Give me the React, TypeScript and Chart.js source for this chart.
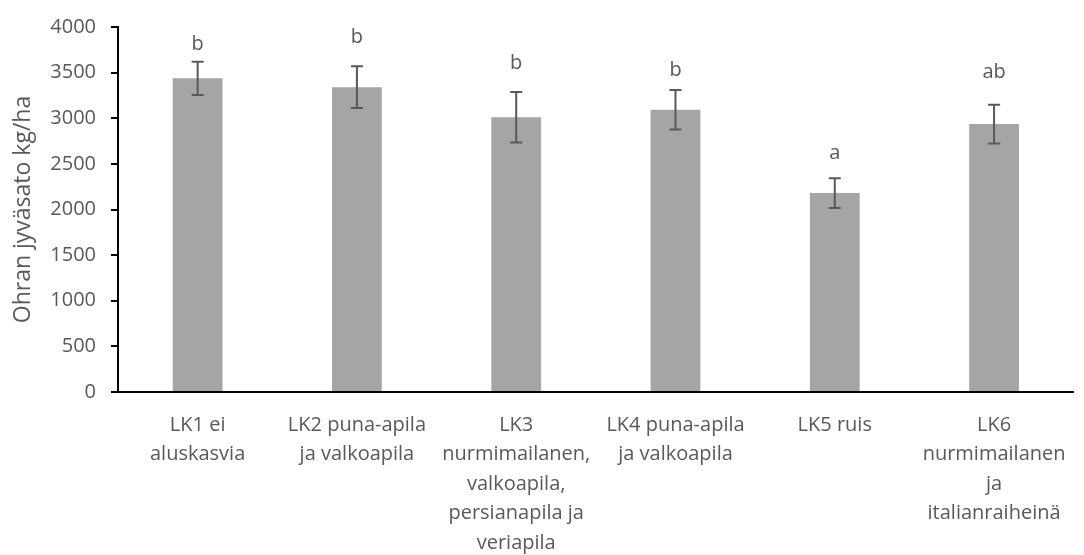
import React, { useEffect, useRef } from "react";
import { Chart, registerables } from "chart.js";

Chart.register(...registerables);

const categories: string[][] = [
  ["LK1 ei", "aluskasvia"],
  ["LK2 puna-apila", "ja valkoapila"],
  ["LK3", "nurmimailanen,", "valkoapila,", "persianapila ja", "veriapila"],
  ["LK4 puna-apila", "ja valkoapila"],
  ["LK5 ruis"],
  ["LK6", "nurmimailanen", "ja", "italianraiheinä"],
];
const yieldMeans: number[] = [3437, 3340, 3011, 3093, 2180, 2936];
const yieldErrors: number[] = [181, 229, 277, 216, 163, 212];
const letters: string[] = ["b", "b", "b", "b", "a", "ab"];
const letterLevels: number[] = [3745, 3826, 3541, 3458, 2554, 3440];

const TEXT = "#595959";
const FONT = "'Open Sans', sans-serif";

const errorBarPlugin = {
  id: "errorBarsAndLetters",
  afterDatasetsDraw(chart: any) {
    const ctx = chart.ctx;
    const xs = chart.scales.x;
    const ys = chart.scales.y;
    ctx.save();
    ctx.strokeStyle = "#595959";
    ctx.lineWidth = 2;
    yieldMeans.forEach((m, i) => {
      const x = xs.getPixelForValue(i);
      const yt = ys.getPixelForValue(m + yieldErrors[i]);
      const yb = ys.getPixelForValue(m - yieldErrors[i]);
      ctx.beginPath();
      ctx.moveTo(x, yt);
      ctx.lineTo(x, yb);
      ctx.moveTo(x - 6, yt);
      ctx.lineTo(x + 6, yt);
      ctx.moveTo(x - 6, yb);
      ctx.lineTo(x + 6, yb);
      ctx.stroke();
    });
    ctx.fillStyle = TEXT;
    ctx.font = `20px ${FONT}`;
    ctx.textAlign = "center";
    ctx.textBaseline = "alphabetic";
    letters.forEach((t, i) => {
      ctx.fillText(t, xs.getPixelForValue(i), ys.getPixelForValue(letterLevels[i]));
    });
    ctx.restore();
  },
};

export default function App() {
  const ref = useRef<HTMLCanvasElement | null>(null);
  useEffect(() => {
    if (!ref.current) return;
    const chart = new Chart(ref.current, {
      type: "bar",
      data: {
        labels: categories,
        datasets: [
          {
            data: yieldMeans,
            backgroundColor: "#a5a5a5",
            borderWidth: 0,
            categoryPercentage: 1,
            barPercentage: 0.3125,
          },
        ],
      },
      options: {
        animation: false,
        responsive: true,
        maintainAspectRatio: false,
        layout: { padding: { top: 19.5, right: 6, left: 0, bottom: 0 } },
        plugins: { legend: { display: false }, tooltip: { enabled: false } },
        scales: {
          x: {
            grid: { display: false, drawTicks: false },
            border: { display: true, color: "#000", width: 2 },
            ticks: {
              color: TEXT,
              font: { family: FONT, size: 20, lineHeight: 1.48 },
              padding: 18,
              maxRotation: 0,
              minRotation: 0,
              autoSkip: false,
            },
            afterFit: (s: any) => {
              s.height = 163;
            },
          },
          y: {
            min: 0,
            max: 4000,
            grid: {
              display: true,
              drawOnChartArea: false,
              drawTicks: true,
              tickLength: 7,
              color: "#000",
              lineWidth: 2,
            },
            border: { display: true, color: "#000", width: 2 },
            ticks: {
              stepSize: 500,
              color: TEXT,
              font: { family: FONT, size: 20 },
              padding: 15,
              callback: (v: any) => String(v),
            },
            title: {
              display: true,
              text: "Ohran jyväsato kg/ha",
              color: TEXT,
              font: { family: FONT, size: 23 },
              padding: { top: 10, bottom: 0 },
            },
            afterFit: (s: any) => {
              s.width = 118;
            },
          },
        },
      },
      plugins: [errorBarPlugin],
    });
    return () => chart.destroy();
  }, []);
  return (
    <div style={{ position: "fixed", left: 0, top: 0, width: 1084, height: 555, background: "#fff" }}>
      <canvas ref={ref} />
    </div>
  );
}
